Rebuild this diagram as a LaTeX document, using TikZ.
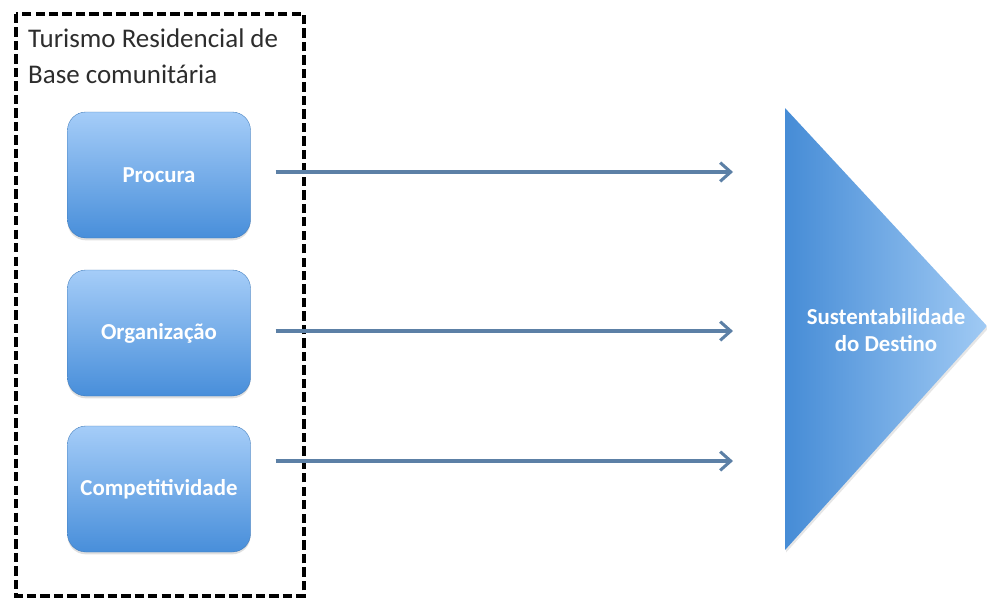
\documentclass[tikz,border=0pt]{standalone}
\usepackage{fontspec}
\setmainfont{Carlito}
\usetikzlibrary{arrows.meta,shadows}

\definecolor{boxtop}{RGB}{165,205,248}
\definecolor{boxbot}{RGB}{72,142,218}
\definecolor{trileft}{RGB}{70,140,214}
\definecolor{triright}{RGB}{160,202,244}
\definecolor{arrowcol}{RGB}{92,128,166}
\definecolor{headcol}{RGB}{45,45,45}

\begin{document}
\begin{tikzpicture}[x=0.03cm, y=-0.03cm,
    factor/.style={rectangle, rounded corners=0.55cm, minimum width=5.49cm, minimum height=3.78cm,
      top color=boxtop, bottom color=boxbot, draw=boxbot!85!black, line width=0.3pt,
      drop shadow={opacity=0.25, shadow xshift=0pt, shadow yshift=-2pt},
      text=white, font=\fontsize{19.5}{22}\selectfont\bfseries},
    link/.style={draw=arrowcol, line width=2.6pt, -{Straight Barb[length=9pt, width=16pt, line width=2.6pt]}},
    grouping/.style={draw=black, line width=3.2pt, dash pattern=on 8pt off 3.5pt}]

    \useasboundingbox (0,0) rectangle (987,602);

    % grupo da esquerda
    \draw[grouping] (16,14) rectangle (304,596);
    \node[anchor=north west, align=left, text=headcol, font=\fontsize{23}{30}\selectfont, inner sep=0pt] (title) at (28,29)
      {Turismo Residencial de\\Base comunitária};

    \node[factor] (procura) at (159,175) {Procura};
    \node[factor] (organizacao) at (159,333) {Organização};
    \node[factor] (competitividade) at (159,489) {Competitividade};

    % triangulo
    \shade[left color=trileft, right color=triright, drop shadow={opacity=0.2, shadow xshift=1pt, shadow yshift=-2pt}]
      (785,108) -- (987,326) -- (785,550) -- cycle;
    \node[text=white, align=center, font=\fontsize{19.5}{23}\selectfont\bfseries] (destino) at (886,330)
      {Sustentabilidade\\do Destino};

    \coordinate (e1) at (733,172);
    \coordinate (e2) at (733,331);
    \coordinate (e3) at (733,461);

    \draw[link] ([xshift=0.75cm]procura.east |- e1) -- (e1);
    \draw[link] ([xshift=0.75cm]organizacao.east |- e2) -- (e2);
    \draw[link] ([xshift=0.75cm]competitividade.east |- e3) -- (e3);
\end{tikzpicture}
\end{document}
